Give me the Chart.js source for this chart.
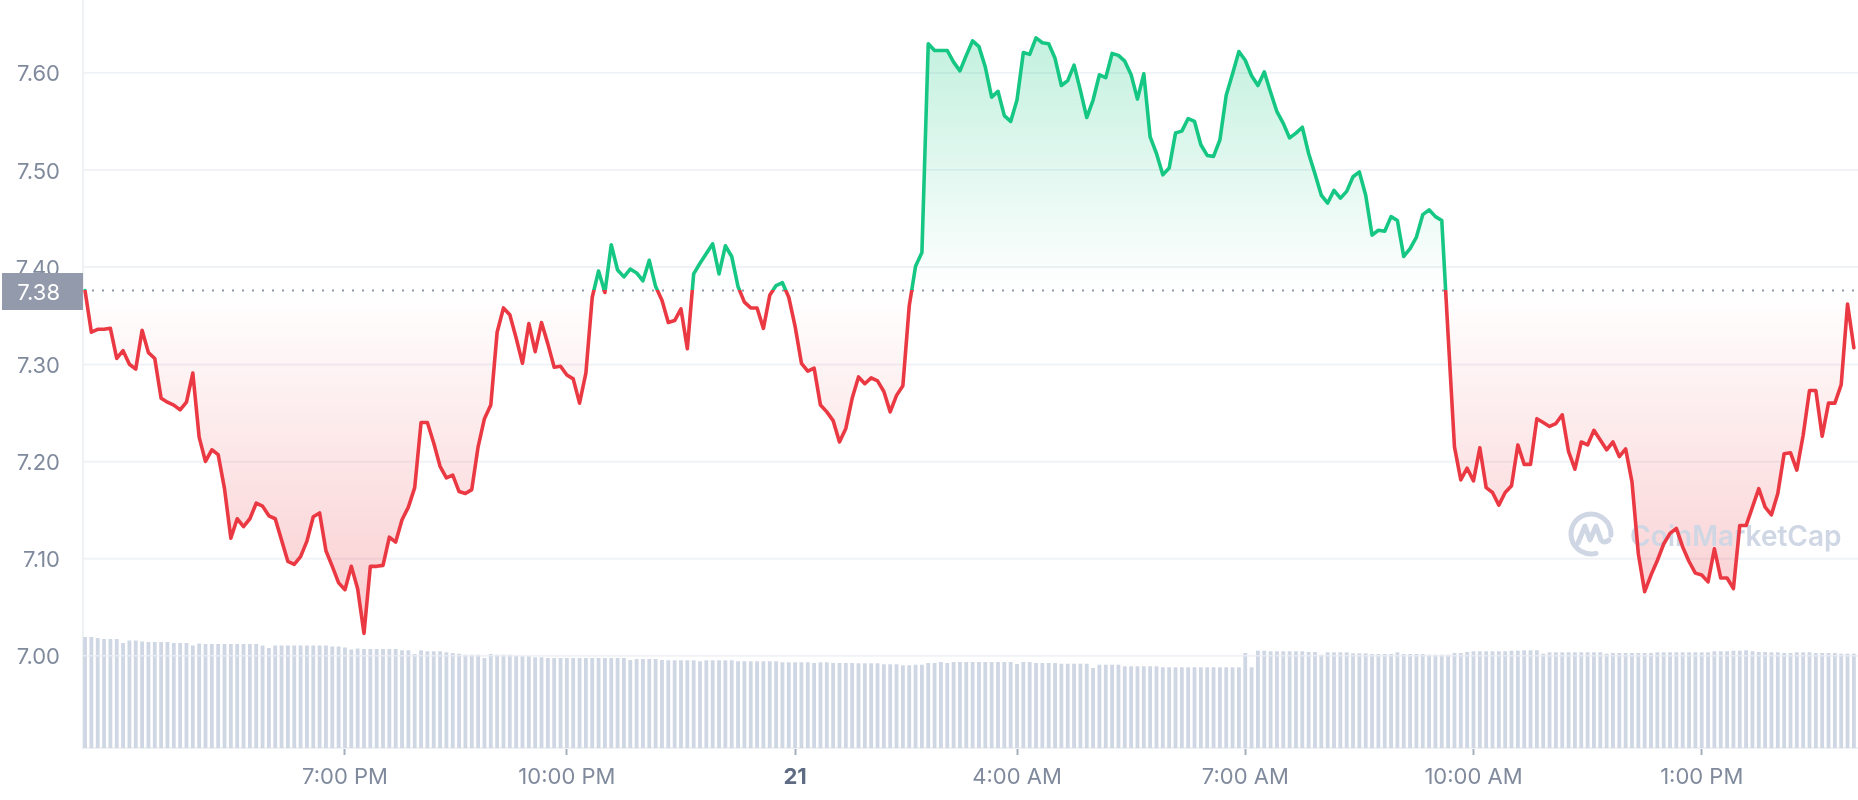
<!DOCTYPE html>
<html>
<head>
<meta charset="utf-8">
<script src="https://cdn.jsdelivr.net/npm/chart.js@4/dist/chart.umd.min.js"></script>
<style>
  html, body { margin: 0; padding: 0; background: #ffffff; }
  #wrap { width: 1858px; height: 800px; }
</style>
</head>
<body>
<div id="wrap"><canvas id="c" width="1858" height="800"></canvas></div>
<script>
// ---- DATA (5-minute samples, slot index = position in the arrays) ----
const prices = [
  7.376,7.333,7.336,7.336,7.337,7.306,7.314,7.300,7.295,7.335,
  7.312,7.306,7.265,7.261,7.258,7.253,7.261,7.291,7.225,7.200,
  7.212,7.207,7.172,7.121,7.141,7.133,7.141,7.157,7.154,7.144,
  7.141,7.119,7.097,7.094,7.102,7.118,7.143,7.147,7.108,7.092,
  7.075,7.068,7.092,7.069,7.023,7.092,7.092,7.093,7.122,7.117,
  7.140,7.153,7.173,7.240,7.240,7.219,7.195,7.183,7.186,7.169,
  7.167,7.171,7.215,7.244,7.258,7.333,7.358,7.351,7.327,7.301,
  7.342,7.313,7.343,7.321,7.297,7.298,7.289,7.285,7.260,7.291,
  7.369,7.396,7.374,7.423,7.397,7.390,7.398,7.394,7.386,7.407,
  7.380,7.366,7.343,7.345,7.357,7.316,7.393,7.404,7.414,7.424,
  7.393,7.422,7.411,7.380,7.364,7.358,7.358,7.337,7.371,7.381,
  7.384,7.369,7.339,7.301,7.293,7.296,7.258,7.251,7.242,7.220,
  7.234,7.265,7.287,7.280,7.286,7.283,7.272,7.251,7.268,7.278,
  7.360,7.401,7.415,7.630,7.623,7.623,7.623,7.611,7.602,7.618,
  7.633,7.627,7.606,7.575,7.581,7.556,7.550,7.572,7.621,7.619,
  7.636,7.631,7.630,7.615,7.587,7.592,7.608,7.582,7.554,7.572,
  7.598,7.595,7.620,7.618,7.612,7.598,7.573,7.599,7.534,7.517,
  7.495,7.502,7.538,7.540,7.553,7.550,7.526,7.515,7.514,7.531,
  7.577,7.599,7.622,7.613,7.597,7.587,7.601,7.580,7.560,7.548,
  7.533,7.538,7.544,7.517,7.496,7.474,7.466,7.479,7.471,7.478,
  7.493,7.498,7.474,7.433,7.438,7.437,7.452,7.448,7.411,7.419,
  7.431,7.454,7.459,7.452,7.448,7.330,7.215,7.181,7.193,7.180,
  7.214,7.173,7.168,7.155,7.168,7.175,7.217,7.197,7.197,7.244,
  7.240,7.236,7.239,7.248,7.210,7.192,7.220,7.217,7.232,7.222,
  7.212,7.220,7.205,7.213,7.179,7.105,7.066,7.083,7.098,7.115,
  7.126,7.131,7.112,7.097,7.085,7.083,7.076,7.110,7.080,7.080,
  7.069,7.134,7.134,7.153,7.172,7.153,7.145,7.167,7.208,7.209,
  7.191,7.227,7.273,7.273,7.226,7.260,7.260,7.279,7.362,7.317
];
const volumes = [
  111,111,110,109,109,109,105,107.5,107.5,106.5,
  106,106,106,106,105,105,105,102.5,104.5,104,
  104,104,104,104,104,104,104,104,102.5,100,
  102.5,102.5,102.5,102.5,102.5,102.5,102.5,102.5,102.5,101.5,
  101.5,100.5,98.5,99.5,99,99,99,99,99,99,
  97.7,97.7,94,97.7,96.7,96.7,96.7,95.7,95,94.3,
  93.3,93.3,93.3,90,94,93.3,93.3,93.3,92.3,91.7,
  91.7,90.7,90.7,90,90,90,90,90,90,90,
  90,90,90,90,90,90,88,89,89,89,
  89,88,87.7,87.7,87.7,87.7,87.7,86.7,87.7,87.7,
  87.7,87.7,87.7,86.7,86.7,86.7,86.7,86.7,86.7,86.7,
  85.7,85.7,85.7,85.7,85.7,85,85.7,85.7,85,85,
  85,85,84.7,84.7,84.7,84.7,83.7,83.7,83.7,82.7,
  82.7,83.3,83.3,85,85,86,85,86,86,86,
  86,86,86,86,86,86,86,84,86,86,
  85,85,85,85,84.3,84.3,84.3,84.3,84.3,80,
  83.3,83.3,83.3,83.3,81.7,81.7,81.7,81.7,81.7,81.7,
  80.7,80.7,80.7,80.7,80.7,80.7,80.7,80.7,80.7,80.7,
  80.7,80.7,80.7,95,80.7,97.3,97.3,96.7,96.7,96.7,
  96.7,96.7,96.7,96,96,93.3,95.7,95.7,95.7,95.7,
  94.7,94.7,94.7,94,94,94,94,95.7,94,94,
  94,94,93.3,93.3,93.3,93.3,95,95,96,96.7,
  96.7,96.7,96.7,96.7,96.7,97.3,97.3,97.7,97.7,97.7,
  94.3,95.7,95.7,95.7,95.7,95.7,95.7,95.7,95.7,95.7,
  94.3,95,95,95,95,95,95,95,95.7,95.7,
  95.7,95.7,95.7,95.7,95.7,95.7,95.7,96.7,96.7,96.7,
  97.3,97.3,97.7,96.7,96,96,95.7,95.7,95,95,
  95.7,95.7,95.7,95,95,95,95,94.3,94.3,94.3
];
const basePrice = 7.376;                 // opening price (dotted reference line)
const yTicks = [7.00, 7.10, 7.20, 7.30, 7.40, 7.50, 7.60];
const xTickSlots = [41, 76, 112, 147, 183, 219, 255];
const xTickLabels = ['7:00 PM', '10:00 PM', '21', '4:00 AM', '7:00 AM', '10:00 AM', '1:00 PM'];

// ---- STYLE ----
const GREEN = '#16c784';
const RED = '#ea3943';
const GRID = '#eff2f5';
const LABEL = '#808a9d';
const FONT = 'Inter, "Noto Sans", sans-serif';

Chart.defaults.font.family = FONT;

function lineGradient(ctx, chart, mode) {
  const area = chart.chartArea;
  if (!area) return mode === 'border' ? RED : 'rgba(0,0,0,0)';
  const y = chart.scales.y;
  const yb = y.getPixelForValue(basePrice);
  const h = area.bottom - area.top;
  const f = Math.min(Math.max((yb - area.top) / h, 0), 1);
  const g = ctx.createLinearGradient(0, area.top, 0, area.bottom);
  if (mode === 'border') {
    g.addColorStop(0, GREEN);
    g.addColorStop(f, GREEN);
    g.addColorStop(f, RED);
    g.addColorStop(1, RED);
  } else {
    const yMax = y.getPixelForValue(Math.max(...prices));
    const yMin = y.getPixelForValue(Math.min(...prices));
    const fTop = Math.min(Math.max((yMax - area.top) / h, 0), 1);
    const fBot = Math.min(Math.max((yMin - area.top) / h, 0), 1);
    g.addColorStop(0, 'rgba(22,199,132,0.27)');
    g.addColorStop(fTop, 'rgba(22,199,132,0.26)');
    g.addColorStop(f, 'rgba(22,199,132,0.0)');
    g.addColorStop(f, 'rgba(234,57,67,0.0)');
    g.addColorStop(fBot, 'rgba(234,57,67,0.26)');
    g.addColorStop(1, 'rgba(234,57,67,0.27)');
  }
  return g;
}

function noPadding(s) {
  s.paddingTop = 0; s.paddingBottom = 0; s.paddingLeft = 0; s.paddingRight = 0;
}

const decorations = {
  id: 'decorations',
  afterDatasetDraw(chart, args) {
    if (args.index !== 1) return;   // volume bars just drawn: faint grid over them
    const { ctx, chartArea } = chart;
    const y = chart.scales.y;
    ctx.save();
    ctx.beginPath();
    ctx.rect(chartArea.left, chartArea.top, chartArea.right - chartArea.left, chartArea.bottom - chartArea.top);
    ctx.clip();
    ctx.strokeStyle = 'rgba(239,242,245,0.75)';
    ctx.lineWidth = 1.5;
    yTicks.forEach(v => {
      const py = y.getPixelForValue(v);
      ctx.beginPath();
      ctx.moveTo(chartArea.left, py);
      ctx.lineTo(chartArea.right, py);
      ctx.stroke();
    });
    ctx.restore();
  },
  beforeDatasetDraw(chart, args) {
    if (args.index !== 0) return;   // before the price line, after its fill
    const { ctx, chartArea } = chart;
    // watermark
    ctx.save();
    const cx = chartArea.right - 267, cy = 534;
    ctx.strokeStyle = '#cfd6e4';
    ctx.lineWidth = 5;
    ctx.lineCap = 'round';
    ctx.lineJoin = 'round';
    ctx.beginPath();
    ctx.arc(cx, cy, 20, 0.42 * Math.PI, 2.02 * Math.PI);
    ctx.stroke();
    ctx.beginPath();
    ctx.moveTo(cx - 13, cy + 9);
    ctx.lineTo(cx - 6, cy - 8);
    ctx.lineTo(cx - 1, cy + 6);
    ctx.lineTo(cx + 5, cy - 8);
    ctx.lineTo(cx + 10, cy + 6);
    ctx.quadraticCurveTo(cx + 13, cy + 10, cx + 18, cy + 6);
    ctx.stroke();
    ctx.fillStyle = '#cfd6e4';
    ctx.font = '600 28px ' + FONT;
    ctx.textBaseline = 'alphabetic';
    ctx.textAlign = 'left';
    ctx.fillText('CoinMarketCap', chartArea.right - 228, 546);
    ctx.restore();

    // dotted opening-price line
    const yb = chart.scales.y.getPixelForValue(basePrice);
    ctx.save();
    ctx.strokeStyle = '#8e98aa';
    ctx.lineWidth = 2;
    ctx.setLineDash([2, 8]);
    ctx.beginPath();
    ctx.moveTo(chartArea.left + 9, Math.round(yb) + 0.5);
    ctx.lineTo(chartArea.right, Math.round(yb) + 0.5);
    ctx.stroke();
    ctx.restore();
  },
  afterDraw(chart) {
    const { ctx, chartArea } = chart;
    const yb = chart.scales.y.getPixelForValue(basePrice);
    ctx.save();
    ctx.fillStyle = '#929aab';
    ctx.fillRect(2, Math.round(yb) - 17, chartArea.left - 2, 37);
    ctx.fillStyle = '#ffffff';
    ctx.font = '22px ' + FONT;
    ctx.textAlign = 'right';
    ctx.textBaseline = 'middle';
    ctx.fillText(basePrice.toFixed(2), chartArea.left - 23, Math.round(yb) + 3);
    ctx.restore();
  }
};

const chart = new Chart(document.getElementById('c'), {
  type: 'line',
  data: {
    datasets: [
      {
        type: 'line',
        data: prices.map((p, i) => ({ x: i, y: p })),
        yAxisID: 'y',
        order: 0,
        borderWidth: 3.6,
        borderJoinStyle: 'round',
        borderCapStyle: 'round',
        pointRadius: 0,
        tension: 0,
        borderColor: (c) => lineGradient(c.chart.ctx, c.chart, 'border'),
        backgroundColor: (c) => lineGradient(c.chart.ctx, c.chart, 'fill'),
        fill: { value: basePrice }
      },
      {
        type: 'bar',
        data: volumes.map((v, i) => ({ x: i, y: v })),
        yAxisID: 'yv',
        order: 1,
        backgroundColor: '#cfd6e4',
        borderWidth: 0,
        barPercentage: 0.6,
        categoryPercentage: 1.0
      }
    ]
  },
  options: {
    responsive: false,
    animation: false,
    devicePixelRatio: 1,
    layout: { padding: 0 },
    plugins: { legend: { display: false }, tooltip: { enabled: false } },
    scales: {
      x: {
        type: 'linear',
        offset: false,
        min: -0.32,
        max: 279.65,
        afterBuildTicks: (s) => { s.ticks = xTickSlots.map(v => ({ value: v })); },
        afterFit: (s) => { s.height = 52; noPadding(s); },
        ticks: {
          autoSkip: false,
          maxRotation: 0,
          padding: 9,
          callback: (v, i) => xTickLabels[i],
          color: (c) => (c.tick && c.tick.label === '21') ? '#5f6b82' : LABEL,
          font: (c) => ({ family: FONT, size: 22, weight: (c.tick && c.tick.label === '21') ? '700' : '400' })
        },
        grid: {
          offset: false,
          drawOnChartArea: false,
          drawTicks: true,
          tickLength: 7,
          tickColor: '#a6aebd',
          tickWidth: 2
        },
        border: { display: true, color: GRID, width: 2 }
      },
      y: {
        type: 'linear',
        position: 'left',
        min: 6.905,
        max: 7.675,
        afterBuildTicks: (s) => { s.ticks = yTicks.map(v => ({ value: v })); },
        afterFit: (s) => { s.width = 83; noPadding(s); },
        ticks: {
          padding: 23,
          labelOffset: 2,
          color: LABEL,
          font: { family: FONT, size: 22 },
          callback: (v) => Number(v).toFixed(2)
        },
        grid: { color: GRID, lineWidth: 1.5, drawTicks: false },
        border: { display: true, color: GRID, width: 2 }
      },
      yv: {
        type: 'linear',
        display: false,
        min: 0,
        max: 748
      }
    }
  },
  plugins: [decorations]
});
</script>
</body>
</html>
